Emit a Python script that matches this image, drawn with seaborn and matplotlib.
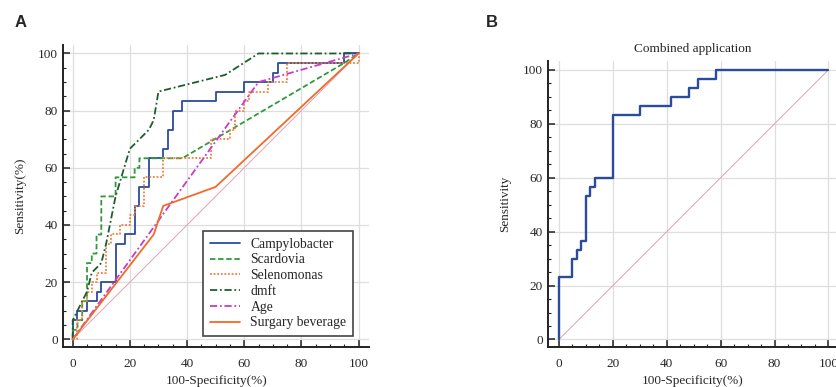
"""ROC curves: single markers (A) and combined application (B)"""
import matplotlib
matplotlib.use("Agg")
import matplotlib.pyplot as plt
import numpy as np
import pandas as pd
import seaborn as sns

# ROC vertices (100-Specificity %, Sensitivity %)
campy_x = [0, 0, 1.67, 1.67, 5, 5, 8.33, 8.33, 10, 10, 15, 15, 18.33, 18.33, 21.67, 21.67,
           23.33, 23.33, 26.67, 26.67, 31.67, 31.67, 33.33, 33.33, 35, 35, 38.33, 38.33,
           50, 50, 60, 60, 70, 70, 71.67, 71.67, 95, 95, 100]
campy_y = [0, 6.67, 6.67, 10, 10, 13.33, 13.33, 16.67, 16.67, 20, 20, 33.33, 33.33, 36.67,
           36.67, 46.67, 46.67, 53.33, 53.33, 63.33, 63.33, 66.67, 66.67, 73.33, 73.33, 80,
           80, 83.33, 83.33, 86.67, 86.67, 90, 90, 93.33, 93.33, 96.67, 96.67, 100, 100]

scard_x = [0, 0, 1.67, 1.67, 3.33, 3.33, 5, 5, 6.67, 6.67, 8.33, 8.33, 10, 10, 15, 15,
           21.67, 21.67, 23.33, 23.33, 38.33, 95, 100]
scard_y = [0, 3.33, 3.33, 6.67, 6.67, 13.33, 13.33, 26.67, 26.67, 30, 30, 36.67, 36.67, 50,
           50, 56.67, 56.67, 60, 60, 63.33, 63.33, 96.67, 100]

selen_x = [0, 1.67, 1.67, 3.33, 3.33, 5, 5, 6.67, 6.67, 8.33, 8.33, 11.67, 11.67, 13.33,
           13.33, 16.67, 16.67, 20, 20, 21.67, 21.67, 25, 25, 31.67, 31.67, 48.33, 48.33,
           55, 55, 56.67, 56.67, 60, 60, 61.67, 61.67, 68.33, 68.33, 75, 75, 100, 100]
selen_y = [0, 0, 6.67, 6.67, 13.33, 13.33, 16.67, 16.67, 20, 20, 23.33, 23.33, 33.33, 33.33,
           36.67, 36.67, 40, 40, 43.33, 43.33, 46.67, 46.67, 56.67, 56.67, 63.33, 63.33, 70,
           70, 73.33, 73.33, 80, 80, 83.33, 83.33, 86.67, 86.67, 90, 90, 96.67, 96.67, 100]

dmft_x = [0, 0, 3.33, 5, 6.67, 10, 11.67, 15, 20, 26.67, 28.33, 30, 53.33, 65, 100]
dmft_y = [0, 6.67, 13.33, 16.67, 23.33, 26.67, 33.33, 50, 66.67, 73.33, 76.67, 86.67, 92.5,
          100, 100]

age_x = [0, 65, 100]
age_y = [0, 90, 100]

bev_x = [0, 28.33, 31.67, 50, 100]
bev_y = [0, 36.67, 46.67, 53.33, 100]

comb_x = [0, 0, 5, 5, 6.67, 6.67, 8.33, 8.33, 10, 10, 11.67, 11.67, 13.33, 13.33, 20, 20,
          30, 30, 41.67, 41.67, 48.33, 48.33, 51.67, 51.67, 58.33, 58.33, 100]
comb_y = [0, 23.33, 23.33, 30, 30, 33.33, 33.33, 36.67, 36.67, 53.33, 53.33, 56.67, 56.67,
          60, 60, 83.33, 83.33, 86.67, 86.67, 90, 90, 93.33, 93.33, 96.67, 96.67, 100, 100]

series = [
    ("Campylobacter", campy_x, campy_y, "#2b4c9b", "-"),
    ("Scardovia", scard_x, scard_y, "#2f9a3c", (0, (3, 1.5))),
    ("Selenomonas", selen_x, selen_y, "#f07f3c", (0, (1, 1))),
    ("dmft", dmft_x, dmft_y, "#1e5e2c", (0, (4, 1.5, 1, 1.5))),
    ("Age", age_x, age_y, "#c83cc8", (0, (4, 1.5, 1, 1.5))),
    ("Surgary beverage", bev_x, bev_y, "#f26a2a", "-"),
]

sns.set_style("white")
plt.rcParams["font.family"] = ["Liberation Serif", "DejaVu Serif"]
plt.rcParams["font.size"] = 9.5

fig = plt.figure(figsize=(8.37, 3.87), dpi=100)
ax_a = fig.add_axes([0.0756, 0.104, 0.3654, 0.780])
ax_b = fig.add_axes([0.655, 0.104, 0.345, 0.739])


def style_axis(ax, xlim, ylim):
    ax.set_xlim(*xlim)
    ax.set_ylim(*ylim)
    ax.set_xticks(np.arange(0, 101, 20))
    ax.set_yticks(np.arange(0, 101, 20))
    ax.set_xticks(np.arange(0, 101, 5), minor=True)
    ax.set_yticks(np.arange(0, 101, 5), minor=True)
    ax.grid(True, which="major", color="#dedede", linewidth=0.9)
    ax.set_axisbelow(True)
    for side in ["top", "right"]:
        ax.spines[side].set_visible(False)
    for side in ["left", "bottom"]:
        ax.spines[side].set_color("#222222")
        ax.spines[side].set_linewidth(1.4)
    ax.tick_params(which="both", bottom=True, left=True, direction="in", color="#222222")
    ax.tick_params(which="major", length=5, width=1.1, labelsize=9.5)
    ax.tick_params(axis="x", which="major", pad=8)
    ax.tick_params(axis="y", which="major", pad=4)
    ax.tick_params(which="minor", length=2.5, width=0.8)
    ax.set_xlabel("100-Specificity(%)", fontsize=9.5, labelpad=4)


# Panel A
ax_a.plot([0, 100], [0, 100], color="#d9a6b6", linewidth=0.7, zorder=1)
for name, xs, ys, col, ls in series:
    df = pd.DataFrame({"x": xs, "y": ys})
    sns.lineplot(data=df, x="x", y="y", sort=False, estimator=None, color=col,
                 linestyle=ls, linewidth=1.3, label=name, ax=ax_a)
style_axis(ax_a, (-3.3, 103.7), (-2.6, 103))
ax_a.set_ylabel("Sensitivity(%)", fontsize=9.5, labelpad=8)
leg = ax_a.legend(loc="lower right", bbox_to_anchor=(0.948, 0.035), frameon=True,
                  fancybox=False, framealpha=1, edgecolor="#444444", fontsize=9.8,
                  handlelength=2.2, labelspacing=0.2, borderpad=0.5, handletextpad=0.8,
                  borderaxespad=0)
leg.get_frame().set_linewidth(1.2)

# Panel B
ax_b.plot([0, 100], [0, 100], color="#d9a6b6", linewidth=0.7, zorder=1)
comb = pd.DataFrame({"x": comb_x, "y": comb_y})
sns.lineplot(data=comb, x="x", y="y", sort=False, estimator=None, color="#2b4c9b",
             linewidth=1.7, ax=ax_b)
style_axis(ax_b, (-4, 103.2), (-2.7, 103.4))
ax_b.set_ylabel("Sensitivity", fontsize=9.5, labelpad=8)
ax_b.set_title("Combined application", fontsize=9.5, pad=6)

fig.text(0.018, 0.943, "A", fontsize=12, fontweight="bold", family="Liberation Sans",
         va="center")
fig.text(0.580, 0.943, "B", fontsize=12, fontweight="bold", family="Liberation Sans",
         va="center")

fig.savefig("out.png", dpi=100)
